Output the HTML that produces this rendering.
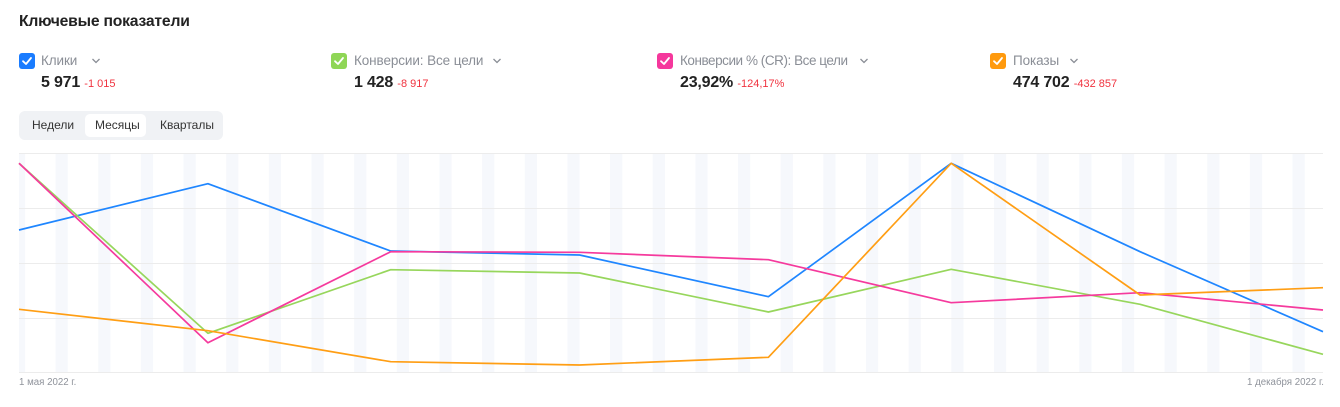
<!DOCTYPE html>
<html><head><meta charset="utf-8">
<style>
html,body{margin:0;padding:0;background:#fff;}
body{width:1340px;height:407px;position:relative;overflow:hidden;font-family:"Liberation Sans","Noto Sans CJK SC",sans-serif;}
.title{position:absolute;left:19px;top:13px;font-size:15.7px;font-weight:bold;color:#222;letter-spacing:-0.2px;}
.cb{position:absolute;top:53px;width:16px;height:16px;border-radius:3px;}
.cb svg{position:absolute;left:0;top:0;}
.lbl{position:absolute;top:53px;font-size:13.5px;color:#8a8e96;line-height:16px;white-space:nowrap;letter-spacing:-0.1px;}
.chev{position:absolute;top:56px;}
.val{position:absolute;top:74px;font-size:16px;font-weight:bold;color:#222;line-height:18px;white-space:nowrap;letter-spacing:-0.2px;}
.delta{font-size:11px;font-weight:normal;color:#f0333f;letter-spacing:0;}
.seg{position:absolute;left:19px;top:111px;width:204px;height:29px;background:#f0f2f5;border-radius:6px;}
.seg span{position:absolute;top:0;line-height:29px;font-size:12px;color:#333;}
.sel{position:absolute;left:66px;top:3px;width:61px;height:23px;background:#fff;border-radius:5px;}
.ax{position:absolute;top:377px;font-size:9.7px;color:#8f939b;white-space:nowrap;}
</style></head><body>
<div class="title">Ключевые показатели</div>

<div class="cb" style="left:19px;background:#1a7cff"><svg width="16" height="16"><path d="M4 8.2 L7 11 L12 5" stroke="#fff" stroke-width="1.8" fill="none" stroke-linecap="round" stroke-linejoin="round"/></svg></div>
<div class="lbl" style="left:41px">Клики</div>
<svg class="chev" style="left:91px" width="10" height="10"><path d="M1.5 3 L5 6.5 L8.5 3" stroke="#8a8e96" stroke-width="1.3" fill="none"/></svg>
<div class="val" style="left:41px">5 971 <span class="delta">-1 015</span></div>

<div class="cb" style="left:331px;background:#8fd656"><svg width="16" height="16"><path d="M4 8.2 L7 11 L12 5" stroke="#fff" stroke-width="1.8" fill="none" stroke-linecap="round" stroke-linejoin="round"/></svg></div>
<div class="lbl" style="left:354px">Конверсии: Все цели</div>
<svg class="chev" style="left:492px" width="10" height="10"><path d="M1.5 3 L5 6.5 L8.5 3" stroke="#8a8e96" stroke-width="1.3" fill="none"/></svg>
<div class="val" style="left:354px">1 428 <span class="delta">-8 917</span></div>

<div class="cb" style="left:657px;background:#f5379c"><svg width="16" height="16"><path d="M4 8.2 L7 11 L12 5" stroke="#fff" stroke-width="1.8" fill="none" stroke-linecap="round" stroke-linejoin="round"/></svg></div>
<div class="lbl" style="left:680px;letter-spacing:-0.45px">Конверсии % (CR): Все цели</div>
<svg class="chev" style="left:859px" width="10" height="10"><path d="M1.5 3 L5 6.5 L8.5 3" stroke="#8a8e96" stroke-width="1.3" fill="none"/></svg>
<div class="val" style="left:680px">23,92% <span class="delta">-124,17%</span></div>

<div class="cb" style="left:990px;background:#ff9a0e"><svg width="16" height="16"><path d="M4 8.2 L7 11 L12 5" stroke="#fff" stroke-width="1.8" fill="none" stroke-linecap="round" stroke-linejoin="round"/></svg></div>
<div class="lbl" style="left:1013px">Показы</div>
<svg class="chev" style="left:1069px" width="10" height="10"><path d="M1.5 3 L5 6.5 L8.5 3" stroke="#8a8e96" stroke-width="1.3" fill="none"/></svg>
<div class="val" style="left:1013px">474 702 <span class="delta">-432 857</span></div>

<div class="seg"><div class="sel"></div>
<span style="left:13px">Недели</span><span style="left:76px">Месяцы</span><span style="left:141px">Кварталы</span></div>

<svg style="position:absolute;left:0;top:0" width="1340" height="407">
<g fill="#f6f8fc" id="stripes"></g>
<g stroke="#ececec" stroke-width="1">
<line x1="19" y1="153.5" x2="1323" y2="153.5"/>
<line x1="19" y1="208.5" x2="1323" y2="208.5"/>
<line x1="19" y1="263.5" x2="1323" y2="263.5"/>
<line x1="19" y1="318.5" x2="1323" y2="318.5"/>
<line x1="19" y1="372.5" x2="1323" y2="372.5"/>
</g>
<g fill="none" stroke-width="1.7" stroke-linejoin="round">
<polyline stroke="#1f86ff" points="19,230 207.9,183.7 390.7,251 579.6,255 768.4,296.7 951.2,163.3 1140.1,251.7 1323,331.7"/>
<polyline stroke="#97d65c" points="19,163.3 207.9,333.3 390.7,269.7 579.6,273 768.4,312 951.2,269.3 1140.1,304.3 1323,354.3"/>
<polyline stroke="#f53a9d" points="19,163.3 207.9,342.7 390.7,251.7 579.6,252.3 768.4,259.7 951.2,302.7 1140.1,292.7 1323,310"/>
<polyline stroke="#ff9e14" points="19,309.3 207.9,330.7 390.7,361.7 579.6,365 768.4,357.3 951.2,163.3 1140.1,295 1323,287.7"/>
</g>
</svg>
<div class="ax" style="left:19px">1 мая 2022 г.</div>
<div class="ax" style="right:16px">1 декабря 2022 г.</div>
<script>
(function(){
var g=document.getElementById('stripes');var ns='http://www.w3.org/2000/svg';var pd=6.0935;
function add(x,w){var r=document.createElementNS(ns,'rect');r.setAttribute('x',x);r.setAttribute('y',154);r.setAttribute('width',w);r.setAttribute('height',218);g.appendChild(r);}
add(19,pd);
for(var k=1;k<=30;k++){add(19+(7*k-1)*pd,2*pd);}
})();
</script>
</body></html>
